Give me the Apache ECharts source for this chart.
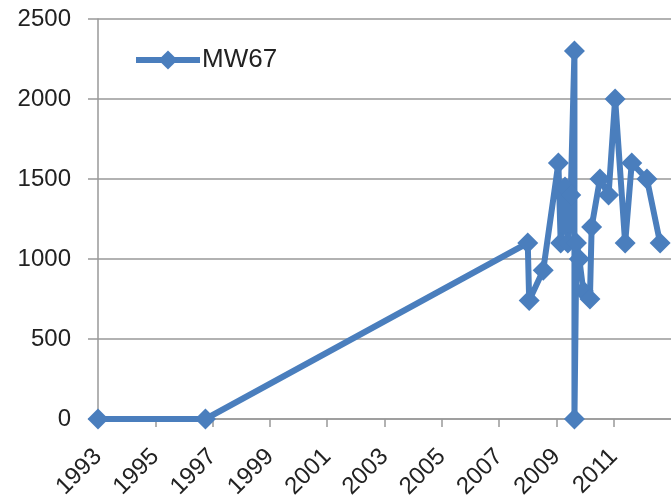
<!DOCTYPE html>
<html>
<head>
<meta charset="utf-8">
<script src="https://cdn.jsdelivr.net/npm/echarts@6/dist/echarts.min.js"></script>
<style>
html,body{margin:0;padding:0;background:#fff;}
#c{width:671px;height:502px;}
</style>
</head>
<body>
<div id="c"></div>
<script>
var seriesName = "MW67";
var years = [1993.0, 1996.75, 2008.0, 2008.05, 2008.54, 2009.07, 2009.15, 2009.3, 2009.4, 2009.5, 2009.63, 2009.63, 2009.7, 2009.8, 2009.94, 2010.17, 2010.23, 2010.52, 2010.82, 2011.05, 2011.4, 2011.63, 2012.16, 2012.62];
var values = [0, 0, 1100, 740, 930, 1600, 1100, 1450, 1100, 1400, 2300, 0, 1100, 1000, 800, 750, 1200, 1500, 1400, 2000, 1100, 1600, 1500, 1100];
var yTicks = [0, 500, 1000, 1500, 2000, 2500];

var data = years.map(function (y, i) { return [y, values[i]]; });
var chart = echarts.init(document.getElementById('c'));
var font = 'Liberation Sans, Arial, sans-serif';
chart.setOption({
  animation: false,
  backgroundColor: '#ffffff',
  grid: { left: 98, right: 0, top: 19, bottom: 83, containLabel: false, outerBoundsMode: 'none' },
  legend: {
    left: 133, top: 47, padding: 0,
    itemWidth: 64, itemHeight: 24, itemGap: 10,
    textStyle: { fontSize: 26, color: '#222', fontFamily: font, padding: [0, 0, 0, -3] },
    lineStyle: { width: 6 },
    data: [seriesName]
  },
  xAxis: {
    type: 'value', min: 1993, max: 2013, interval: 2,
    splitLine: { show: false },
    axisLine: { lineStyle: { color: '#999', width: 1.5 } },
    axisTick: { show: true, length: 8, lineStyle: { color: '#999', width: 1.5 } },
    axisLabel: {
      rotate: 45, fontSize: 24, color: '#222', fontFamily: font, margin: 34,
      showMaxLabel: false,
      formatter: function (v) { return v >= 2013 ? '' : String(v); }
    }
  },
  yAxis: {
    type: 'value', min: 0, max: 2500, interval: 500,
    axisLine: { show: true, lineStyle: { color: '#999', width: 1.5 } },
    axisTick: { show: true, length: 10, lineStyle: { color: '#999', width: 1.5 } },
    splitLine: { show: true, lineStyle: { color: '#999', width: 1.5 } },
    axisLabel: {
      fontSize: 24, color: '#222', fontFamily: font, margin: 27,
      formatter: function (v) { return yTicks.indexOf(v) >= 0 ? String(v) : ''; }
    }
  },
  series: [{
    name: seriesName,
    type: 'line',
    data: data,
    symbol: 'diamond',
    symbolSize: 21,
    lineStyle: { color: '#4a7ebd', width: 6 },
    itemStyle: { color: '#4a7ebd' }
  }]
});
</script>
</body>
</html>
